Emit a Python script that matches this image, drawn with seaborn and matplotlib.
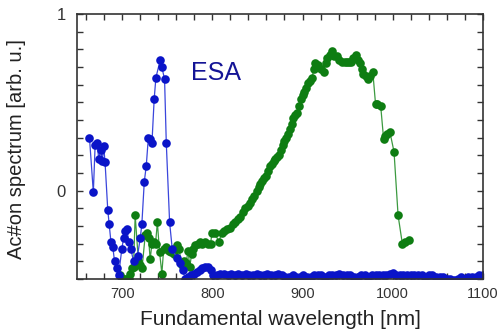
import numpy as np
import pandas as pd
import matplotlib
matplotlib.use("Agg")
import matplotlib.pyplot as plt
import seaborn as sns
from matplotlib.ticker import MultipleLocator

# ── Data ──────────────────────────────────────────────────────────────────────

esa_nm = [663.7, 668, 670, 672, 674, 676, 678, 679.5, 681, 684, 685.6, 687.5,
          689.6, 691.5, 694, 696, 699.6, 701.5, 703, 705, 707.5, 709.5, 712.6,
          717, 720, 721.8, 724.5, 726.7, 729, 731, 733, 735.5, 737.4, 742.2,
          744, 747, 748.9, 752.6, 755.5, 760.5, 764.4, 767, 770,
          773, 776, 780, 783, 786, 789, 792, 795, 798, 801, 805, 809, 813,
          817, 821, 825, 829, 833, 837, 841, 845, 849, 853, 857, 861, 865,
          869, 873, 877, 881, 885, 889, 893, 897, 901, 905, 909, 913, 917,
          921, 925, 929, 933, 937, 941, 945, 949, 953, 957, 961, 965, 969,
          973, 977, 981, 985, 989, 993, 997, 1000, 1004, 1008, 1012, 1016,
          1020, 1024, 1028, 1032, 1036, 1040, 1044, 1048, 1052, 1056, 1060,
          1064, 1068, 1072, 1076, 1080, 1084, 1088, 1092, 1096, 1100]
esa_val = [0.30, -0.01, 0.26, 0.27, 0.18, 0.23, 0.17, 0.25, 0.16, -0.11, -0.19,
           -0.29, -0.32, -0.40, -0.44, -0.48, -0.33, -0.27, -0.23, -0.22, -0.29,
           -0.33, -0.40, -0.37, -0.27, -0.19, 0.05, 0.14, 0.30, 0.29, 0.27,
           0.52, 0.64, 0.74, 0.70, 0.63, 0.27, -0.18, -0.33, -0.38, -0.41,
           -0.45, -0.50,
           -0.49, -0.48, -0.47, -0.46, -0.45, -0.44, -0.43, -0.43, -0.45,
           -0.48, -0.48, -0.47, -0.47, -0.48, -0.47, -0.48, -0.47, -0.48,
           -0.47, -0.48, -0.48, -0.47, -0.48, -0.48, -0.47, -0.48, -0.48,
           -0.47, -0.48, -0.49, -0.49, -0.48, -0.49, -0.49, -0.48, -0.49,
           -0.49, -0.48, -0.48, -0.48, -0.49, -0.48, -0.48, -0.48, -0.47,
           -0.48, -0.48, -0.48, -0.49, -0.49, -0.48, -0.48, -0.49, -0.48,
           -0.48, -0.48, -0.48, -0.48, -0.47, -0.465, -0.48, -0.48, -0.48,
           -0.48, -0.48, -0.48, -0.48, -0.48, -0.49, -0.48, -0.48, -0.49,
           -0.49, -0.49, -0.50, -0.50, -0.505, -0.50, -0.49, -0.50, -0.49,
           -0.49, -0.49, -0.48, -0.48]

act_nm = [697.8, 700, 702, 704, 707, 709, 710.7, 712.6, 714.4, 718, 720, 722,
          725.6, 727, 729.3, 731, 733, 734.8, 737, 739, 741.5, 744, 746, 749,
          751.5, 754, 757, 760.7, 763, 766, 769, 771, 773, 775, 777, 779, 781,
          784, 786.7, 789, 792, 795, 798, 799.6, 803, 807, 810.7, 813, 816,
          820, 823, 825.6, 828, 831, 834, 836.7, 839, 842, 844, 846, 849,
          851.5, 853, 855, 857, 860, 862, 863.7, 866, 868, 870, 872, 873.7,
          876, 878.5, 880, 882, 884, 886, 888, 889.6, 892, 894, 896, 898.5,
          900, 902, 904, 906, 908, 910.7, 912.5, 914.4, 917, 920, 923.7,
          925.5, 927.4, 930, 933, 935, 938.5, 941, 944, 947, 949.6, 952, 954,
          956.5, 959, 961, 963.7, 965.5, 967.4, 970, 972.6, 975, 978, 981,
          983, 986.7, 990, 992, 994, 997, 1001.5, 1006, 1010.7, 1014, 1018]
act_val = [-0.48, -0.50, -0.50, -0.50, -0.50, -0.47, -0.44, -0.43, -0.14, -0.40,
           -0.42, -0.44, -0.25, -0.24, -0.27, -0.39, -0.30, -0.29, -0.30, -0.18,
           -0.35, -0.47, -0.33, -0.32, -0.34, -0.35, -0.36, -0.31, -0.33, -0.42,
           -0.40, -0.41, -0.34, -0.43, -0.36, -0.33, -0.31, -0.30, -0.29, -0.30,
           -0.29, -0.30, -0.30, -0.24, -0.24, -0.29, -0.24, -0.23, -0.22, -0.21,
           -0.19, -0.18, -0.16, -0.15, -0.12, -0.10, -0.09, -0.07, -0.05, -0.03,
           0.00, 0.02, 0.04, 0.057, 0.07, 0.085, 0.11, 0.14, 0.15, 0.17, 0.18,
           0.19, 0.20, 0.23, 0.26, 0.28, 0.30, 0.32, 0.35, 0.38, 0.41, 0.43,
           0.44, 0.48, 0.52, 0.54, 0.56, 0.58, 0.61, 0.62, 0.64, 0.69, 0.72,
           0.71, 0.69, 0.67, 0.72, 0.75, 0.77, 0.79, 0.76, 0.76, 0.74, 0.73,
           0.73, 0.73, 0.73, 0.73, 0.75, 0.77, 0.74, 0.72, 0.69, 0.66, 0.65,
           0.63, 0.65, 0.67, 0.49, 0.49, 0.48, 0.29, 0.31, 0.32, 0.33, 0.22,
           -0.14, -0.30, -0.29, -0.28]

esa = pd.DataFrame({"nm": esa_nm, "val": esa_val})
act = pd.DataFrame({"nm": act_nm, "val": act_val})

BLUE  = "#0a14c8"
GREEN = "#0e7d12"

# ── Plot ──────────────────────────────────────────────────────────────────────

sns.set_style("ticks")
plt.rcParams["font.family"] = ["Liberation Sans", "DejaVu Sans"]

fig = plt.figure(figsize=(5.04, 3.34), dpi=100)
ax = fig.add_axes([0.153, 0.165, 0.805, 0.793])

sns.lineplot(data=act, x="nm", y="val", sort=False, ax=ax, color="#3c9a40",
             linewidth=0.9, marker="o", markersize=6.2, markeredgewidth=0,
             markerfacecolor=GREEN)
sns.lineplot(data=esa, x="nm", y="val", sort=False, ax=ax, color="#3a46dc",
             linewidth=0.9, marker="o", markersize=6.2, markeredgewidth=0,
             markerfacecolor=BLUE)

ax.set_xlim(650, 1100)
ax.set_ylim(-0.5, 1.0)

ax.set_xticks([700, 800, 900, 1000, 1100])
ax.xaxis.set_minor_locator(MultipleLocator(20))
ax.set_yticks([-0.5, 0, 0.5, 1])
ax.set_yticklabels(["", "0", "", "1"])
ax.yaxis.set_minor_locator(MultipleLocator(0.1))

ax.tick_params(which="both", direction="in", top=True, right=True,
               length=4, width=1, color="#333333")
ax.tick_params(axis="x", labelsize=10.5, labelcolor="#333333", pad=6)
ax.tick_params(axis="y", labelsize=12, labelcolor="#333333", pad=8)
for s in ax.spines.values():
    s.set_linewidth(1.2)
    s.set_color("#333333")

ax.set_xlabel("Fundamental wavelength [nm]", fontsize=15, color="#222222",
              labelpad=6)
ax.set_ylabel("Ac#on spectrum [arb. u.]", fontsize=14.5, color="#222222")
ax.yaxis.set_label_coords(-0.125, 0.49)

ax.text(776, 0.625, "ESA", fontsize=18, color="#141496", va="baseline")

fig.savefig("out.png", dpi=100)
